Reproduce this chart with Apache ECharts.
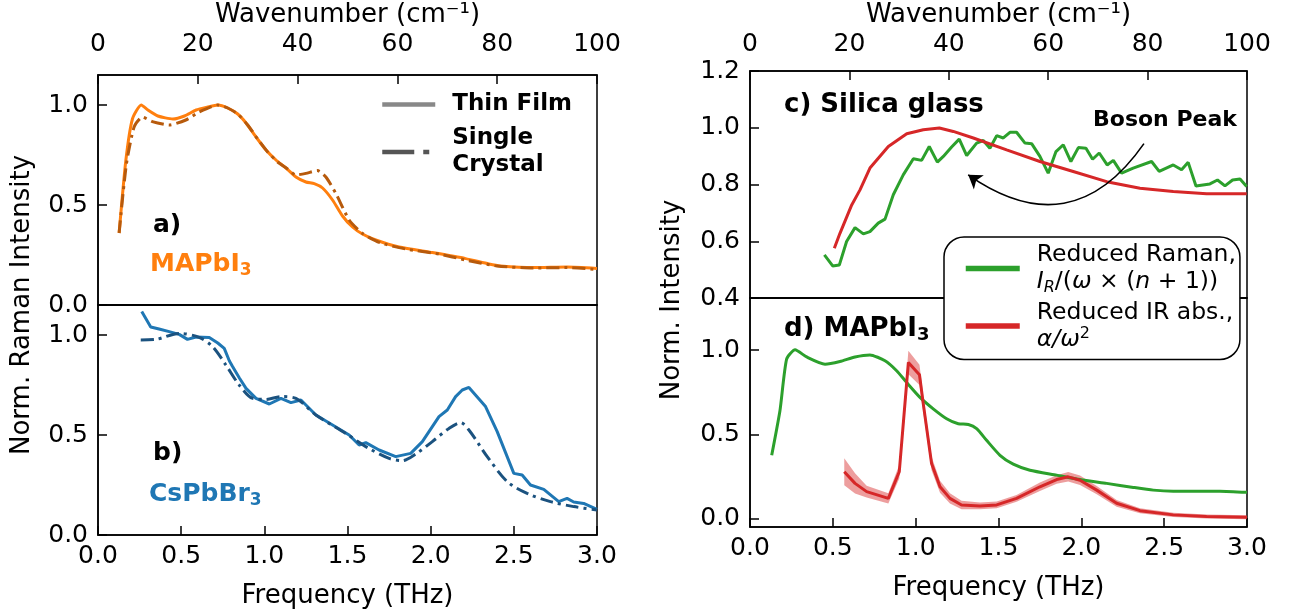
<!DOCTYPE html>
<html><head><meta charset="utf-8">
<script src="https://cdn.jsdelivr.net/npm/echarts@6/dist/echarts.min.js"></script>
<style>html,body{margin:0;padding:0;background:#fff}#c{width:1290px;height:614px}</style>
</head><body><div id="c"></div><script>
// ---------- tick values ----------
const freqTicks = [0, 0.5, 1.0, 1.5, 2.0, 2.5, 3.0];
const wnTicks = [0, 20, 40, 60, 80, 100];
const yTicksA = [0, 0.5, 1.0];
const yTicksB = [0, 0.5, 1.0];
const yTicksC = [0.4, 0.6, 0.8, 1.0, 1.2];
const yTicksD = [0, 0.5, 1.0];

// ---------- panel a: MAPbI3 ----------
const filmA_f = [0.127,0.167,0.207,0.26,0.30,0.36,0.45,0.52,0.59,0.66,0.72,0.78,0.84,0.89,0.95,1.01,1.07,1.13,1.19,1.25,1.30,1.35,1.41,1.47,1.53,1.59,1.67,1.81,2.01,2.21,2.35,2.42,2.62,2.82,3.0];
const filmA_v = [0.36,0.72,0.93,1.0,0.975,0.945,0.93,0.945,0.975,0.99,1.0,0.985,0.955,0.91,0.84,0.775,0.725,0.685,0.64,0.615,0.607,0.585,0.525,0.445,0.39,0.355,0.325,0.29,0.262,0.232,0.205,0.195,0.187,0.19,0.183];
const crysA_f = [0.127,0.17,0.217,0.267,0.327,0.428,0.528,0.608,0.72,0.78,0.84,0.90,0.96,1.02,1.08,1.14,1.19,1.25,1.32,1.37,1.43,1.51,1.59,1.70,1.85,2.05,2.21,2.40,2.62,2.82,3.0];
const crysA_v = [0.36,0.70,0.89,0.94,0.917,0.90,0.925,0.965,1.0,0.985,0.955,0.90,0.83,0.765,0.715,0.68,0.65,0.658,0.672,0.64,0.558,0.425,0.358,0.31,0.28,0.255,0.225,0.195,0.185,0.187,0.178];

// ---------- panel b: CsPbBr3 ----------
const filmB_f = [0.263,0.317,0.367,0.428,0.488,0.538,0.589,0.669,0.72,0.759,0.79,0.809,0.85,0.89,0.95,1.03,1.10,1.16,1.22,1.31,1.41,1.51,1.57,1.61,1.69,1.79,1.88,1.95,2.05,2.10,2.15,2.19,2.23,2.33,2.40,2.50,2.55,2.60,2.68,2.77,2.82,2.86,2.92,3.0];
const filmB_v = [1.117,1.04,1.03,1.017,1.003,0.978,0.99,0.988,0.96,0.933,0.87,0.842,0.785,0.733,0.683,0.655,0.683,0.662,0.675,0.60,0.55,0.50,0.45,0.462,0.425,0.392,0.408,0.467,0.592,0.625,0.692,0.725,0.738,0.642,0.517,0.308,0.30,0.25,0.228,0.167,0.183,0.165,0.158,0.128];
const crysB_f = [0.257,0.347,0.488,0.608,0.689,0.769,0.849,0.93,1.01,1.10,1.19,1.31,1.49,1.61,1.75,1.83,1.91,2.01,2.11,2.18,2.23,2.34,2.46,2.58,2.72,2.86,3.0];
const crysB_v = [0.975,0.978,1.008,0.988,0.942,0.85,0.75,0.683,0.678,0.692,0.683,0.60,0.508,0.442,0.383,0.372,0.405,0.467,0.533,0.562,0.525,0.392,0.267,0.208,0.167,0.142,0.125];

// ---------- panel c: silica glass ----------
const ramanC_f = [0.449,0.499,0.539,0.583,0.634,0.684,0.724,0.774,0.815,0.865,0.925,0.986,1.036,1.082,1.131,1.167,1.217,1.263,1.308,1.368,1.408,1.448,1.489,1.529,1.569,1.609,1.66,1.70,1.75,1.80,1.847,1.891,1.937,1.982,2.028,2.068,2.108,2.156,2.193,2.243,2.313,2.424,2.47,2.555,2.605,2.645,2.692,2.776,2.822,2.867,2.913,2.958,2.998];
const ramanC_v = [0.552,0.513,0.516,0.599,0.648,0.626,0.634,0.664,0.678,0.764,0.834,0.891,0.885,0.934,0.879,0.899,0.932,0.96,0.902,0.946,0.955,0.928,0.972,0.964,0.984,0.984,0.946,0.944,0.899,0.84,0.916,0.94,0.881,0.93,0.928,0.889,0.911,0.869,0.885,0.84,0.858,0.881,0.846,0.869,0.852,0.878,0.795,0.802,0.816,0.795,0.816,0.819,0.793];
const irC_f = [0.509,0.543,0.614,0.664,0.724,0.835,0.946,1.046,1.143,1.227,1.348,1.549,1.75,1.951,2.153,2.354,2.555,2.756,2.998];
const irC_v = [0.575,0.628,0.728,0.781,0.858,0.934,0.979,0.993,0.999,0.987,0.964,0.922,0.881,0.846,0.81,0.787,0.775,0.767,0.767];
// Boson-peak arrow (start, end) in data units of panel c
const bosonArrow = [[2.378, 0.944], [1.317, 0.834]];

// ---------- panel d: MAPbI3 ----------
const ramanD_f = [0.131,0.181,0.221,0.272,0.342,0.453,0.543,0.634,0.724,0.815,0.885,0.945,1.026,1.106,1.187,1.257,1.318,1.368,1.428,1.509,1.589,1.69,1.851,1.992,2.153,2.314,2.434,2.555,2.837,3.0];
const ramanD_v = [0.376,0.642,0.947,1.002,0.96,0.917,0.933,0.96,0.972,0.937,0.878,0.809,0.72,0.652,0.593,0.563,0.559,0.534,0.465,0.376,0.323,0.287,0.258,0.232,0.209,0.185,0.169,0.163,0.163,0.156];
const irD_f = [0.569,0.634,0.704,0.835,0.901,0.956,1.023,1.046,1.096,1.147,1.207,1.277,1.388,1.489,1.609,1.75,1.851,1.921,1.992,2.093,2.213,2.354,2.555,2.756,3.0];
const irD_v = [0.278,0.209,0.16,0.12,0.278,0.927,0.854,0.681,0.327,0.189,0.12,0.081,0.075,0.081,0.12,0.189,0.232,0.248,0.228,0.169,0.091,0.047,0.022,0.012,0.008];
const irD_err = [0.08,0.06,0.035,0.03,0.04,0.07,0.06,0.05,0.04,0.035,0.03,0.025,0.02,0.02,0.02,0.025,0.025,0.028,0.028,0.025,0.02,0.015,0.012,0.012,0.012];

const zip = (a, b) => a.map((x, i) => [x, b[i]]);
const FONT = 'DejaVu Sans';
const ORANGE = '#ff7f0e', ORANGE_D = '#b75a0c', BLUE = '#1f77b4', BLUE_D = '#1b527f', GREEN = '#2ca02c', RED = '#d62728';
const DASHDOT = [13, 5, 3, 5];
const fmt1 = v => v.toFixed(1);

function grid(left, top, width, height) {
  return {left, top, width, height, show: true, borderColor: '#000', borderWidth: 1.5, backgroundColor: 'transparent', containLabel: false};
}
function freqAxis(gi, showLabels, name) {
  return {type: 'value', gridIndex: gi, min: 0, max: 3, position: 'bottom',
    axisLine: {show: true, onZero: false, lineStyle: {color: '#000', width: 1.5}},
    axisTick: {show: showLabels, inside: true, length: 9, lineStyle: {color: '#000', width: 1.5}, customValues: freqTicks},
    axisLabel: {show: showLabels, margin: 9, fontSize: 25, fontFamily: FONT, color: '#000', formatter: fmt1, customValues: freqTicks},
    splitLine: {show: false},
    name: name || '', nameLocation: 'middle', nameGap: 48, nameTextStyle: {fontSize: 26, fontFamily: FONT, color: '#000'}};
}
function wnAxis(gi, margin, gap) {
  return {type: 'value', gridIndex: gi, min: 0, max: 100, position: 'top',
    axisLine: {show: true, onZero: false, lineStyle: {color: '#000', width: 1.5}},
    axisTick: {show: true, inside: true, length: 9, lineStyle: {color: '#000', width: 1.5}, customValues: wnTicks},
    axisLabel: {show: true, margin: margin, fontSize: 25, fontFamily: FONT, color: '#000', customValues: wnTicks},
    splitLine: {show: false},
    name: 'Wavenumber (cm⁻¹)', nameLocation: 'middle', nameGap: gap, nameTextStyle: {fontSize: 26, fontFamily: FONT, color: '#000'}};
}
function yAxis(gi, min, max, ticks) {
  return {type: 'value', gridIndex: gi, min, max,
    axisLine: {show: true, onZero: false, lineStyle: {color: '#000', width: 1.5}},
    axisTick: {show: true, inside: true, length: 9, lineStyle: {color: '#000', width: 1.5}, customValues: ticks},
    axisLabel: {show: true, margin: 10, fontSize: 25, fontFamily: FONT, color: '#000', formatter: fmt1, customValues: ticks},
    splitLine: {show: false}};
}
function line(name, xi, yi, data, color, dash, smooth) {
  return {type: 'line', name, xAxisIndex: xi, yAxisIndex: yi, data, symbol: 'none', showSymbol: false,
    smooth: smooth || false, lineStyle: {color, width: 3, type: dash || 'solid'}, itemStyle: {color}, z: 3};
}

const chart = echarts.init(document.getElementById('c'), null, {renderer: 'canvas'});

const LF = 23.5;
const legendRich = {
  g: {width: 12, fontSize: LF, lineHeight: 27, fontFamily: FONT},
  t: {fontSize: LF, lineHeight: 27, fontFamily: FONT, color: '#000'},
  i: {fontSize: LF, lineHeight: 27, fontFamily: FONT, fontStyle: 'italic', color: '#000'},
  sub: {fontSize: 16, lineHeight: 15, fontFamily: FONT, fontStyle: 'italic', verticalAlign: 'bottom', color: '#000'},
  sup: {fontSize: 16, lineHeight: 15, fontFamily: FONT, verticalAlign: 'top', color: '#000'}
};
const legARich = {
  g: {width: 12, fontSize: 23, lineHeight: 27, fontFamily: FONT},
  b: {fontSize: 23, lineHeight: 27, fontFamily: FONT, fontWeight: 'bold', color: '#000'}
};

const option = {
  animation: false,
  backgroundColor: '#fff',
  grid: [grid(98, 75, 499, 230), grid(98, 305, 499, 230), grid(750, 71, 497, 227), grid(750, 298, 497, 229)],
  xAxis: [
    freqAxis(0, false), wnAxis(0, 18, 47),
    freqAxis(1, true, 'Frequency (THz)'),
    freqAxis(2, false), wnAxis(2, 14, 43),
    freqAxis(3, true, 'Frequency (THz)')
  ],
  yAxis: [yAxis(0, 0, 1.15, yTicksA), yAxis(1, 0, 1.15, yTicksB), yAxis(2, 0.4, 1.2, yTicksC), yAxis(3, -0.05, 1.31, yTicksD)],
  legend: [
    {data: [{name: 'Thin Film'}, {name: 'Single Crystal', lineStyle: {type: [32, 9, 6, 9]}}],
     orient: 'vertical', left: 380, top: 93, padding: 0, itemGap: 11,
     itemWidth: 53, itemHeight: 14, selectedMode: false, lineStyle: {width: 4.5}, itemStyle: {opacity: 0},
     formatter: n => n === 'Thin Film' ? '{g|}{b|Thin Film}' : '{g|}{b|Single}\n{g|}{b|Crystal}',
     textStyle: {fontFamily: FONT, fontSize: 23, fontWeight: 'bold', rich: legARich}},
    {data: ['Reduced Raman', 'Reduced IR'], orient: 'vertical', left: 944, top: 237, padding: [6, 4, 8, 19], itemGap: 5,
     itemWidth: 54, itemHeight: 14, selectedMode: false, lineStyle: {width: 5.5}, itemStyle: {opacity: 0},
     backgroundColor: '#fff', borderColor: '#000', borderWidth: 1.5, borderRadius: 20, z: 10,
     formatter: n => n === 'Reduced Raman'
        ? '{g|}{t|Reduced Raman,}\n{g|}{i|I}{sub|R}{t|/(}{i|ω}{t| × (}{i|n}{t| + 1))}'
        : '{g|}{t|Reduced IR abs.,}\n{g|}{i|α/ω}{sup|2}',
     textStyle: {fontFamily: FONT, fontSize: LF, rich: legendRich}}
  ],
  series: [
    line('film a', 0, 0, zip(filmA_f, filmA_v), ORANGE, 'solid', 0.2),
    line('crystal a', 0, 0, zip(crysA_f, crysA_v), ORANGE_D, DASHDOT, 0.2),
    line('Thin Film', 0, 0, [], '#888888', 'solid'),
    line('Single Crystal', 0, 0, [], '#555555', DASHDOT),
    line('film b', 2, 1, zip(filmB_f, filmB_v), BLUE, 'solid'),
    line('crystal b', 2, 1, zip(crysB_f, crysB_v), BLUE_D, DASHDOT, 0.3),
    line('Reduced Raman', 3, 2, zip(ramanC_f, ramanC_v), GREEN, 'solid'),
    line('Reduced IR', 3, 2, zip(irC_f, irC_v), RED, 'solid'),
    {type: 'lines', coordinateSystem: 'cartesian2d', xAxisIndex: 3, yAxisIndex: 2, polyline: false,
     symbol: ['none', 'arrow'], symbolSize: [0, 13], z: 5,
     lineStyle: {color: '#000', width: 1.6, curveness: 0.5, opacity: 1},
     data: [{coords: bosonArrow}]},
    line('Reduced Raman', 5, 3, zip(ramanD_f, ramanD_v), GREEN, 'solid', 0.2),
    {type: 'custom', name: 'IR band', xAxisIndex: 5, yAxisIndex: 3, z: 2,
     data: irD_f.map((f, i) => [f, irD_v[i] - irD_err[i], irD_v[i] + irD_err[i]]),
     encode: {x: 0, y: [1, 2]},
     renderItem: (params, api) => {
       if (params.dataIndex !== 0) return;
       const up = irD_f.map((f, i) => api.coord([f, irD_v[i] + irD_err[i]]));
       const lo = irD_f.map((f, i) => api.coord([f, irD_v[i] - irD_err[i]])).reverse();
       return {type: 'polygon', shape: {points: up.concat(lo)}, style: {fill: 'rgba(214,39,40,0.45)', stroke: 'none'}};
     }},
    line('Reduced IR', 5, 3, zip(irD_f, irD_v), RED, 'solid')
  ],
  graphic: [
    {type: 'text', x: 22, y: 305, rotation: Math.PI / 2, style: {text: 'Norm. Raman Intensity', fontSize: 26, fontFamily: FONT, fill: '#000', align: 'center', verticalAlign: 'middle'}},
    {type: 'text', x: 672, y: 300, rotation: Math.PI / 2, style: {text: 'Norm. Intensity', fontSize: 26, fontFamily: FONT, fill: '#000', align: 'center', verticalAlign: 'middle'}},
    {type: 'text', x: 153, y: 225, style: {text: 'a)', fontSize: 25, fontWeight: 'bold', fontFamily: FONT, fill: '#000', align: 'left', verticalAlign: 'middle'}},
    {type: 'text', x: 150, y: 264, style: {text: '{m|MAPbI}{s|3}', align: 'left', verticalAlign: 'middle',
      rich: {m: {fontSize: 25, fontWeight: 'bold', fontFamily: FONT, fill: ORANGE, color: ORANGE, lineHeight: 30},
             s: {fontSize: 17, fontWeight: 'bold', fontFamily: FONT, fill: ORANGE, color: ORANGE, lineHeight: 18, verticalAlign: 'bottom'}}}},
    {type: 'text', x: 153, y: 453, style: {text: 'b)', fontSize: 25, fontWeight: 'bold', fontFamily: FONT, fill: '#000', align: 'left', verticalAlign: 'middle'}},
    {type: 'text', x: 149, y: 494, style: {text: '{m|CsPbBr}{s|3}', align: 'left', verticalAlign: 'middle',
      rich: {m: {fontSize: 25, fontWeight: 'bold', fontFamily: FONT, fill: BLUE, color: BLUE, lineHeight: 30},
             s: {fontSize: 17, fontWeight: 'bold', fontFamily: FONT, fill: BLUE, color: BLUE, lineHeight: 18, verticalAlign: 'bottom'}}}},
    {type: 'text', x: 784, y: 105, style: {text: 'c) Silica glass', fontSize: 26, fontWeight: 'bold', fontFamily: FONT, fill: '#000', align: 'left', verticalAlign: 'middle'}},
    {type: 'text', x: 1093, y: 120, style: {text: 'Boson Peak', fontSize: 22, fontWeight: 'bold', fontFamily: FONT, fill: '#000', align: 'left', verticalAlign: 'middle'}},
    {type: 'text', x: 784, y: 329, style: {text: '{m|d) MAPbI}{s|3}', align: 'left', verticalAlign: 'middle',
      rich: {m: {fontSize: 26, fontWeight: 'bold', fontFamily: FONT, fill: '#000', color: '#000', lineHeight: 30},
             s: {fontSize: 18, fontWeight: 'bold', fontFamily: FONT, fill: '#000', color: '#000', lineHeight: 18, verticalAlign: 'bottom'}}}}
  ]
};
chart.setOption(option);
</script></body></html>
